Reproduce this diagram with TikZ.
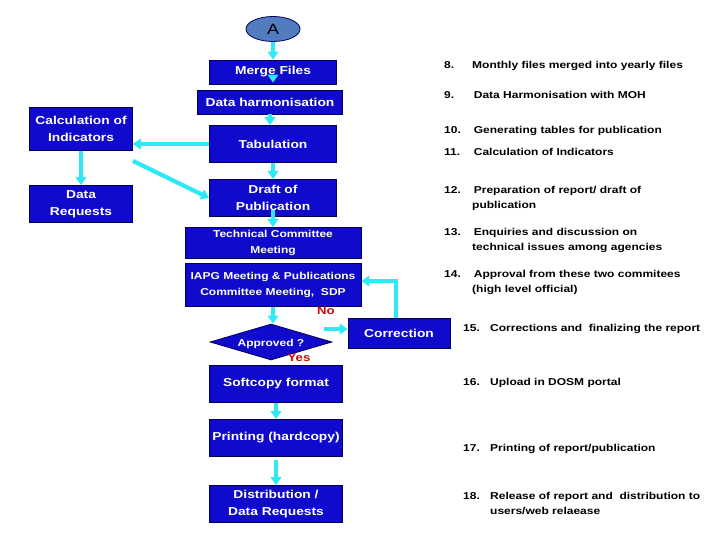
\documentclass[tikz,border=0pt]{standalone}
\usepackage{fontspec}
\setmainfont{Liberation Sans}[FakeStretch=1.2]
\usetikzlibrary{arrows.meta}
\usetikzlibrary{shapes.geometric}
\definecolor{boxblue}{RGB}{16,10,204}
\definecolor{boxline}{RGB}{0,0,90}
\definecolor{flowcyan}{RGB}{45,232,245}
\definecolor{darkred}{RGB}{200,10,10}
\definecolor{steelblue}{RGB}{82,124,192}

\begin{document}
\begin{tikzpicture}[x=1pt,y=-1pt]
		  \tikzset{
			box/.style={rectangle,fill=boxblue,draw=boxline,line width=0.8pt,text=white,align=center,inner sep=0pt,
			  font=\bfseries\fontsize{11.5}{17}\selectfont},
			small/.style={font=\bfseries\fontsize{10}{15.5}\selectfont},
			flow/.style={flowcyan,line width=4.2pt,-{Triangle[length=8pt,width=10.5pt]}},
			note/.style={anchor=north west,inner sep=0pt,align=left,font=\bfseries\fontsize{10}{15}\selectfont},
			answer/.style={text=darkred,font=\bfseries\fontsize{11}{11}\selectfont},
		  }
		  \useasboundingbox (0,0) rectangle (720,540);
		  %START
		  \node[ellipse,fill=steelblue,draw=boxline,line width=0.8pt,minimum width=54pt,minimum height=25pt,inner sep=0pt,font=\fontsize{15}{15}\selectfont] (A) at (273,29) {A};
		  %MAIN COLUMN
		  \node[box,minimum width=127pt,minimum height=24pt] (merge) at (273,72) {Merge Files};
		  \node[box,minimum width=145pt,minimum height=24pt] (harm) at (270,102) {Data harmonisation};
		  \node[box,minimum width=127pt,minimum height=37pt] (tab) at (273,144) {Tabulation};
		  \node[box,minimum width=127pt,minimum height=37pt] (draft) at (273,198) {Draft of\\Publication};
		  \node[box,small,minimum width=176pt,minimum height=31pt] (tech) at (273,243) {Technical Committee\\Meeting};
		  \node[box,small,minimum width=176pt,minimum height=43pt] (iapg) at (273,285) {IAPG Meeting \& Publications\\Committee Meeting,~ SDP};
		  %DECISION
		  \node[diamond,fill=boxblue,draw=boxline,line width=0.8pt,minimum width=122pt,minimum height=36pt,inner sep=0pt,
			label={[text=white,small,yshift=-2pt]center:Approved ?}] (dec) at (271,342) {};
		  \node[answer] (no) at (326,311) {No};
		  \node[answer] (yes) at (299,358) {Yes};
		  \node[box,minimum width=102pt,minimum height=30pt] (corr) at (399,333) {Correction};
		  %OUTPUT
		  \node[box,minimum width=133pt,minimum height=37pt] (soft) at (276,384) {Softcopy format};
		  \node[box,minimum width=133pt,minimum height=37pt] (print) at (276,438) {Printing (hardcopy)};
		  \node[box,minimum width=133pt,minimum height=37pt] (dist) at (276,504) {Distribution /\\Data Requests};
		  %SIDE BOXES
		  \node[box,minimum width=103pt,minimum height=43pt] (calc) at (81,129) {Calculation of\\Indicators};
		  \node[box,minimum width=103pt,minimum height=37pt] (req) at (81,204) {Data\\Requests};

		  %ARROWS
		  \draw[flow] (A) -- (merge);
		  \draw[flow] ([yshift=7pt]merge.south) -- ([yshift=7pt]merge.south |- harm.north);
		  \draw[flow] (harm.south) -- (harm.south |- tab.north);
		  \draw[flow] (tab.west) -- (tab.west -| calc.east);
		  \draw[flow] (calc.south) -- (req.north);
		  \draw[flow] ([yshift=-10pt]calc.south east) -- (draft.west);
		  \draw[flow] (tab) -- (draft);
		  \draw[flow] ([yshift=7pt]draft.south) -- (tech.north);
		  \draw[flow] (iapg.south) -- (iapg.south |- dec.north);
		  \draw[flow] ([xshift=-24pt,yshift=4pt]corr.west) -- ([yshift=4pt]corr.west);
		  \draw[flow] ([xshift=-3pt]corr.north) |- ([yshift=4pt]iapg.east);
		  \draw[flow] (soft) -- (print);
		  \draw[flow] ([yshift=-3pt]print.south) -- (dist.north);

		  %STEP NOTES 8 - 14
		  \foreach \y/\n/\t [count=\i] in {65/8./{Monthly files merged into yearly files},
			95/9./{\,Data Harmonisation with MOH},
			130/10./{\,Generating tables for publication},
			152/11./{\,Calculation of Indicators},
			190/12./{\,Preparation of report/ draft of\\publication},
			232/13./{\,Enquiries and discussion on\\technical issues among agencies},
			274/14./{\,Approval from these two commitees\\(high level official)}}{
		  \node[note] (num\i) at (444,\y-4) {\n};
		  \node[note] (step\i) at (472,\y-4) {\t};
		  }
		  %STEP NOTES 15 - 18
		  \foreach \y/\n/\t [count=\i] in {328/15./{Corrections and~ finalizing the report},
			382/16./{Upload in DOSM portal},
			448/17./{Printing of report/publication},
			496/18./{Release of report and~ distribution to\\users/web relaease}}{
		  \node[note] (numb\i) at (463,\y-4) {\n};
		  \node[note] (stepb\i) at (490,\y-4) {\t};
		  }
\end{tikzpicture}
\end{document}
